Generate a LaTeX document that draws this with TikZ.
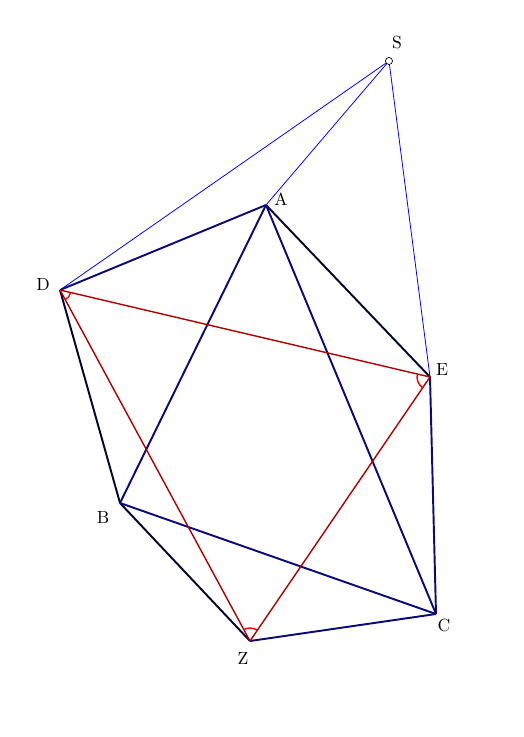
\documentclass[tikz,border=0pt]{standalone}
\usepackage{tikz}
\usetikzlibrary{positioning,angles,calc}
\definecolor{navyline}{RGB}{10,10,120}
\definecolor{redline}{RGB}{175,0,0}
\tikzstyle{edge}=[-, line width=1.1pt, draw=navyline]
\tikzstyle{dedge}=[-, line width=1.1pt, draw=black!60!navyline]
\tikzstyle{sline}=[-, line width=0.45pt, draw=blue]
\tikzstyle{rline}=[-, line width=0.8pt, draw=redline]
\tikzstyle{amark}=[draw=red, line width=0.8pt, angle radius=2.2mm]
\tikzstyle{lbl}=[inner sep=1pt, font=\normalsize]

\begin{document}
\begin{tikzpicture}[x=0.02cm, y=-0.02cm]
\useasboundingbox (0,0) rectangle (524,737);
\coordinate (S) at (389,61);
\coordinate (A) at (266,205);
\coordinate (D) at (60,290);
\coordinate (E) at (430,377);
\coordinate (B) at (120,503);
\coordinate (C) at (436,614);
\coordinate (Z) at (250,641);
% labels
\node (lS) [lbl] at (397,43) {S};
\node (lA) [lbl] at (281,199) {A};
\node (lD) [lbl] at (43,284) {D};
\node (lE) [lbl] at (442,370) {E};
\node (lB) [lbl] at (103,517) {B};
\node (lC) [lbl] at (444,625) {C};
\node (lZ) [lbl] at (243,658) {Z};
% pyramid edges from S
\draw[sline] (S) -- (A);
\draw[sline] (S) -- (D);
\draw[sline] (S) -- (E);
% outer polygon
\draw[edge] (A) -- (D);
\draw[dedge] (A) -- (E);
\draw[dedge] (D) -- (B);
\draw[dedge] (B) -- (Z);
\draw[edge] (Z) -- (C);
\draw[edge] (C) -- (E);
% triangle ABC
\draw[edge] (A) -- (B);
\draw[edge] (A) -- (C);
\draw[edge] (B) -- (C);
% triangle DEZ
\draw[rline] (D) -- (E);
\draw[rline] (D) -- (Z);
\draw[rline] (Z) -- (E);
\pic[amark] {angle = Z--D--E};
\pic[amark, angle radius=2.6mm] {angle = D--E--Z};
\pic[amark, angle radius=2.6mm] {angle = E--Z--D};
\draw[fill=white, line width=0.4pt] (S) circle (3.5);
\end{tikzpicture}
\end{document}
